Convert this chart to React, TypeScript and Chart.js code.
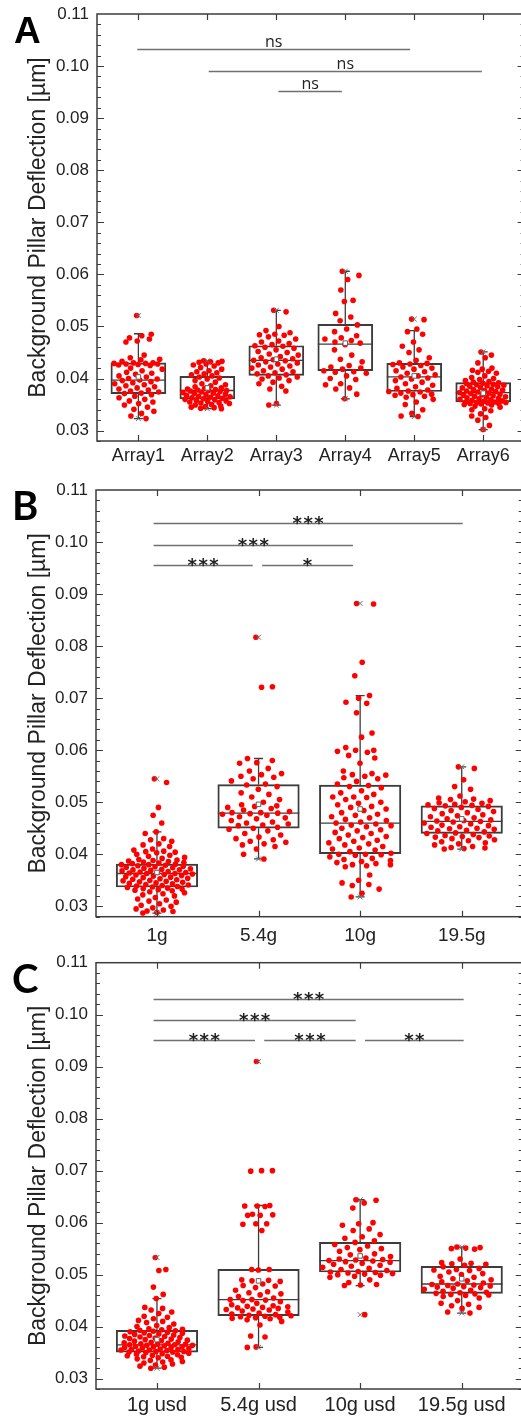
import React, { useEffect, useRef } from "react";
import { Chart, registerables } from "chart.js";
Chart.register(...registerables);

// ---------------- DATA ----------------
const yTickValues = [0.03, 0.04, 0.05, 0.06, 0.07, 0.08, 0.09, 0.1, 0.11];

// Panel A
const catsA = ["Array1", "Array2", "Array3", "Array4", "Array5", "Array6"];
const array1 = [0.0521, 0.0485, 0.0482, 0.0478, 0.0476, 0.0472, 0.047, 0.0445, 0.044, 0.0437, 0.0436, 0.0433, 0.043, 0.043, 0.0429, 0.0429, 0.0428, 0.0428, 0.0427, 0.0426, 0.0425, 0.042, 0.0418, 0.0415, 0.0412, 0.041, 0.0408, 0.0405, 0.0403, 0.04, 0.0399, 0.0397, 0.0396, 0.0394, 0.0392, 0.039, 0.0388, 0.0386, 0.0384, 0.0382, 0.038, 0.0378, 0.0376, 0.0374, 0.0372, 0.0371, 0.0369, 0.0366, 0.0363, 0.036, 0.0357, 0.0355, 0.0352, 0.0349, 0.0345, 0.0341, 0.0337, 0.0333, 0.0328, 0.0323];
const array2 = [0.0434, 0.0433, 0.0432, 0.0431, 0.043, 0.0428, 0.0426, 0.0424, 0.0421, 0.0418, 0.0415, 0.0413, 0.0411, 0.0409, 0.0407, 0.0405, 0.0403, 0.0401, 0.0399, 0.0396, 0.0393, 0.039, 0.0388, 0.0386, 0.0384, 0.0382, 0.0381, 0.038, 0.0379, 0.0378, 0.0377, 0.0377, 0.0376, 0.0375, 0.0374, 0.0373, 0.0372, 0.0371, 0.037, 0.0369, 0.0368, 0.0367, 0.0366, 0.0365, 0.0364, 0.0363, 0.0362, 0.0361, 0.036, 0.0359, 0.0358, 0.0357, 0.0356, 0.0355, 0.0354, 0.0353, 0.0352, 0.035, 0.0349, 0.0347, 0.0346, 0.0345, 0.0344, 0.0343, 0.0342];
const array3 = [0.0531, 0.0528, 0.05, 0.0492, 0.0488, 0.0485, 0.0484, 0.0483, 0.048, 0.0476, 0.0472, 0.047, 0.0467, 0.0465, 0.0463, 0.0462, 0.046, 0.0458, 0.0455, 0.0452, 0.045, 0.0447, 0.0445, 0.0442, 0.044, 0.0438, 0.0436, 0.0435, 0.0434, 0.0432, 0.043, 0.0428, 0.0426, 0.0424, 0.0422, 0.042, 0.0418, 0.0415, 0.0413, 0.0411, 0.0409, 0.0407, 0.0405, 0.0403, 0.0401, 0.0399, 0.0396, 0.0393, 0.039, 0.0385, 0.038, 0.0376, 0.0352, 0.0349];
const array4 = [0.0606, 0.0598, 0.059, 0.057, 0.055, 0.0548, 0.0525, 0.0518, 0.0511, 0.0503, 0.0495, 0.049, 0.0482, 0.0478, 0.0476, 0.0473, 0.047, 0.0468, 0.0465, 0.0455, 0.0445, 0.0437, 0.0432, 0.0425, 0.0422, 0.042, 0.0418, 0.0415, 0.0413, 0.0412, 0.041, 0.0405, 0.04, 0.0398, 0.039, 0.0388, 0.0382, 0.038, 0.037, 0.0361];
const array5 = [0.0514, 0.0513, 0.0495, 0.049, 0.0485, 0.047, 0.0462, 0.0455, 0.045, 0.044, 0.0435, 0.043, 0.0429, 0.0428, 0.0427, 0.0425, 0.0422, 0.042, 0.0418, 0.0415, 0.0413, 0.041, 0.0407, 0.0405, 0.0403, 0.0401, 0.0399, 0.0396, 0.0393, 0.039, 0.0387, 0.0384, 0.0381, 0.0378, 0.0376, 0.0375, 0.0374, 0.0372, 0.037, 0.0369, 0.0368, 0.0366, 0.0364, 0.036, 0.0355, 0.035, 0.034, 0.0333, 0.0328, 0.0327];
const array6 = [0.0451, 0.0445, 0.044, 0.043, 0.042, 0.0418, 0.0416, 0.0414, 0.0412, 0.041, 0.0405, 0.0402, 0.04, 0.0398, 0.0396, 0.0394, 0.0393, 0.0392, 0.0391, 0.039, 0.0389, 0.0388, 0.0387, 0.0386, 0.0385, 0.0384, 0.0383, 0.0382, 0.038, 0.0379, 0.0378, 0.0377, 0.0376, 0.0375, 0.0374, 0.0373, 0.0372, 0.0371, 0.037, 0.0369, 0.0368, 0.0367, 0.0366, 0.0365, 0.0364, 0.0363, 0.0362, 0.0361, 0.036, 0.0359, 0.0358, 0.0357, 0.0356, 0.0355, 0.0355, 0.0354, 0.0354, 0.0353, 0.0352, 0.0352, 0.0351, 0.035, 0.0349, 0.0347, 0.0345, 0.0342, 0.034, 0.0338, 0.0332, 0.0328, 0.0325, 0.032, 0.031, 0.0302];
const q1A = [0.0371, 0.0361, 0.0406, 0.0415, 0.0375, 0.0355];
const medianA = [0.0397, 0.0377, 0.0435, 0.0466, 0.0403, 0.0373];
const q3A = [0.043, 0.0404, 0.0463, 0.0504, 0.0429, 0.0392];
const whiskerLowA = [0.0323, 0.0342, 0.0349, 0.0361, 0.0327, 0.0302];
const whiskerHighA = [0.0486, 0.0434, 0.0531, 0.0606, 0.0492, 0.0451];
const meanA = [0.0403, 0.0382, 0.0437, 0.0468, 0.0405, 0.0372];
const sigFromA = [0.985, 2.02, 3.03];
const sigToA = [4.94, 5.98, 3.95];
const sigLevelA = [0.1032, 0.0991, 0.0952];
const sigLabelA = ["ns", "ns", "ns"];

// Panel B
const catsB = ["1g", "5.4g", "10g", "19.5g"];
const g1 = [0.0545, 0.0538, 0.049, 0.0475, 0.046, 0.0443, 0.044, 0.043, 0.0428, 0.0425, 0.042, 0.0418, 0.0415, 0.041, 0.0408, 0.0406, 0.0405, 0.0404, 0.0403, 0.04, 0.0398, 0.0396, 0.0394, 0.0392, 0.039, 0.0389, 0.0388, 0.0387, 0.0386, 0.0385, 0.0384, 0.0383, 0.0382, 0.0381, 0.038, 0.038, 0.0379, 0.0378, 0.0377, 0.0376, 0.0375, 0.0374, 0.0373, 0.0372, 0.0371, 0.037, 0.037, 0.0369, 0.0368, 0.0367, 0.0366, 0.0365, 0.0365, 0.0364, 0.0363, 0.0363, 0.0362, 0.0361, 0.036, 0.0359, 0.0358, 0.0357, 0.0356, 0.0355, 0.0354, 0.0353, 0.0352, 0.0351, 0.035, 0.0349, 0.0348, 0.0347, 0.0346, 0.0345, 0.0344, 0.0343, 0.0342, 0.0341, 0.034, 0.0339, 0.0338, 0.0337, 0.0336, 0.0335, 0.0334, 0.0333, 0.0332, 0.0331, 0.033, 0.0328, 0.0326, 0.0324, 0.0322, 0.032, 0.0317, 0.0314, 0.0312, 0.031, 0.0308, 0.0305, 0.0302, 0.03, 0.0297, 0.0295, 0.0293, 0.0291, 0.029, 0.0288, 0.0287];
const g54 = [0.0817, 0.0722, 0.0721, 0.0584, 0.058, 0.0576, 0.0575, 0.0565, 0.056, 0.0555, 0.0553, 0.055, 0.0548, 0.0545, 0.0541, 0.0535, 0.0533, 0.053, 0.0525, 0.0518, 0.0515, 0.051, 0.0505, 0.05, 0.0495, 0.0493, 0.0492, 0.049, 0.0488, 0.0485, 0.0482, 0.048, 0.048, 0.0479, 0.0478, 0.0477, 0.0475, 0.0472, 0.047, 0.0468, 0.0465, 0.0462, 0.046, 0.0458, 0.0456, 0.0455, 0.0452, 0.045, 0.0448, 0.0445, 0.044, 0.0437, 0.0433, 0.043, 0.0428, 0.0425, 0.0423, 0.042, 0.0418, 0.0415, 0.041, 0.04, 0.0391];
const g10 = [0.0882, 0.0881, 0.0769, 0.0743, 0.0705, 0.07, 0.0692, 0.069, 0.0672, 0.0633, 0.0625, 0.0605, 0.06, 0.06, 0.0598, 0.0596, 0.059, 0.0585, 0.0575, 0.056, 0.0555, 0.0553, 0.0552, 0.055, 0.0547, 0.0545, 0.054, 0.0535, 0.0532, 0.053, 0.0528, 0.0522, 0.0518, 0.0515, 0.051, 0.051, 0.0509, 0.0505, 0.05, 0.0498, 0.0495, 0.0492, 0.049, 0.0487, 0.0484, 0.048, 0.0477, 0.0475, 0.0472, 0.047, 0.0467, 0.0465, 0.0462, 0.046, 0.0458, 0.0456, 0.0455, 0.0453, 0.045, 0.0447, 0.0445, 0.0442, 0.044, 0.0437, 0.0434, 0.0432, 0.043, 0.0427, 0.0425, 0.0422, 0.042, 0.0418, 0.0415, 0.0412, 0.041, 0.0408, 0.0405, 0.0402, 0.04, 0.04, 0.0399, 0.0398, 0.0395, 0.0392, 0.039, 0.0388, 0.0386, 0.0384, 0.0382, 0.038, 0.038, 0.0378, 0.0376, 0.036, 0.035, 0.0345, 0.0342, 0.034, 0.0333, 0.0325, 0.0318];
const g195 = [0.0568, 0.0565, 0.0543, 0.053, 0.0525, 0.0512, 0.0508, 0.0506, 0.0505, 0.0503, 0.0501, 0.0499, 0.0498, 0.0496, 0.0495, 0.0494, 0.0493, 0.0492, 0.049, 0.0488, 0.0486, 0.0484, 0.0482, 0.048, 0.0478, 0.0476, 0.0474, 0.0472, 0.047, 0.0468, 0.0466, 0.0465, 0.0464, 0.0463, 0.0462, 0.046, 0.0458, 0.0456, 0.0455, 0.0453, 0.0452, 0.045, 0.0449, 0.0448, 0.0446, 0.0445, 0.0443, 0.0441, 0.044, 0.0438, 0.0436, 0.0435, 0.0434, 0.0433, 0.0432, 0.043, 0.0428, 0.0426, 0.0424, 0.0422, 0.042, 0.0418, 0.0415, 0.0413, 0.0412, 0.0411, 0.041];
const q1B = [0.0337, 0.045, 0.0401, 0.044];
const medianB = [0.0363, 0.0479, 0.046, 0.0463];
const q3B = [0.0381, 0.0534, 0.0533, 0.0493];
const whiskerLowB = [0.0287, 0.0391, 0.0318, 0.041];
const whiskerHighB = [0.0443, 0.0584, 0.0705, 0.0568];
const meanB = [0.0365, 0.0496, 0.0487, 0.0468];
const sigFromB = [0.967, 0.967, 0.967, 2.035];
const sigToB = [4.009, 2.929, 1.942, 2.929];
const sigLevelB = [0.1037, 0.0994, 0.0956, 0.0956];
const sigLabelB = ["***", "***", "***", "*"];

// Panel C
const catsC = ["1g usd", "5.4g usd", "10g usd", "19.5g usd"];
const u1 = [0.0533, 0.051, 0.0508, 0.0476, 0.0462, 0.0454, 0.0437, 0.0435, 0.0432, 0.0428, 0.0425, 0.042, 0.0418, 0.0415, 0.0412, 0.041, 0.0408, 0.0405, 0.0402, 0.04, 0.0398, 0.0396, 0.0395, 0.0394, 0.0393, 0.0392, 0.0391, 0.039, 0.0389, 0.0388, 0.0387, 0.0386, 0.0385, 0.0384, 0.0383, 0.0382, 0.0381, 0.038, 0.0379, 0.0378, 0.0377, 0.0376, 0.0375, 0.0374, 0.0373, 0.0372, 0.0371, 0.037, 0.0369, 0.0368, 0.0367, 0.0366, 0.0366, 0.0365, 0.0365, 0.0364, 0.0364, 0.0363, 0.0362, 0.0361, 0.0361, 0.036, 0.036, 0.0359, 0.0358, 0.0357, 0.0356, 0.0356, 0.0355, 0.0355, 0.0354, 0.0353, 0.0352, 0.0352, 0.0351, 0.0351, 0.035, 0.0349, 0.0348, 0.0347, 0.0346, 0.0345, 0.0344, 0.0343, 0.0342, 0.0341, 0.034, 0.0338, 0.0336, 0.0335, 0.0333, 0.0332, 0.033, 0.0328, 0.0326, 0.0324, 0.0322, 0.032];
const u54 = [0.091, 0.07, 0.07, 0.0699, 0.0633, 0.0632, 0.0632, 0.0631, 0.0616, 0.0615, 0.0614, 0.0614, 0.0598, 0.0598, 0.0597, 0.0585, 0.051, 0.051, 0.0509, 0.049, 0.0489, 0.0488, 0.0487, 0.0482, 0.0479, 0.0478, 0.0475, 0.047, 0.0467, 0.0465, 0.0463, 0.0461, 0.0458, 0.0455, 0.0452, 0.0452, 0.0451, 0.045, 0.0448, 0.0445, 0.0442, 0.044, 0.0439, 0.0438, 0.0437, 0.0436, 0.0435, 0.0434, 0.0433, 0.0432, 0.043, 0.0428, 0.0426, 0.0424, 0.0423, 0.0422, 0.0421, 0.042, 0.0419, 0.0418, 0.0417, 0.0416, 0.0415, 0.0413, 0.041, 0.0403, 0.0382, 0.038, 0.0361, 0.036];
const u10 = [0.0644, 0.0643, 0.0638, 0.0628, 0.06, 0.0598, 0.0595, 0.0588, 0.0585, 0.0577, 0.0573, 0.057, 0.0565, 0.0562, 0.0558, 0.0555, 0.0552, 0.055, 0.0548, 0.0545, 0.054, 0.0538, 0.0535, 0.0532, 0.053, 0.0529, 0.0528, 0.0527, 0.0526, 0.0525, 0.0524, 0.0522, 0.052, 0.0518, 0.0516, 0.0514, 0.0512, 0.051, 0.0508, 0.0506, 0.0505, 0.0504, 0.0503, 0.0502, 0.0501, 0.05, 0.0499, 0.0497, 0.0495, 0.049, 0.0485, 0.0481, 0.048, 0.0479, 0.0423];
const u195 = [0.0553, 0.0552, 0.0551, 0.055, 0.0549, 0.053, 0.0523, 0.0522, 0.0521, 0.052, 0.0518, 0.0515, 0.0512, 0.051, 0.0509, 0.0508, 0.0505, 0.0502, 0.05, 0.0497, 0.0495, 0.0492, 0.049, 0.0488, 0.0486, 0.0484, 0.0482, 0.0481, 0.048, 0.0479, 0.0478, 0.0477, 0.0476, 0.0475, 0.0474, 0.0472, 0.047, 0.0468, 0.0466, 0.0465, 0.0464, 0.0463, 0.0462, 0.0461, 0.046, 0.0458, 0.0455, 0.045, 0.0445, 0.0443, 0.044, 0.0437, 0.0435, 0.0428, 0.0426];
const q1C = [0.0351, 0.0421, 0.0505, 0.0464];
const medianC = [0.0365, 0.0452, 0.0527, 0.0482];
const q3C = [0.0393, 0.051, 0.0562, 0.0516];
const whiskerLowC = [0.032, 0.036, 0.0479, 0.0426];
const whiskerHighC = [0.0454, 0.0633, 0.0644, 0.0553];
const meanC = [0.0375, 0.0488, 0.0536, 0.0492];
const sigFromC = [0.967, 0.967, 0.967, 2.056, 3.048];
const sigToC = [4.019, 2.956, 1.965, 2.956, 4.019];
const sigLevelC = [0.1031, 0.099, 0.0951, 0.0951, 0.0951];
const sigLabelC = ["***", "***", "***", "***", "**"];

const yTitle = "Background Pillar Deflection [µm]";

// ---------------- LAYOUT ----------------
const CANVAS_W = 560;
const panels = [
  {
    letter: "A", letterFont: 'bold 37px "Liberation Sans", Arial, sans-serif', letterX: 14, letterY: 43,
    top: 0, height: 470, plotTop: 14, plotBottom: 441, plotLeft: 97, plotRight: 524.6,
    labelSize: 18, labelPad: 4, boxPx: 55, titleShift: 0, titleSize: 23,
    cats: catsA, groups: [array1, array2, array3, array4, array5, array6],
    q1: q1A, med: medianA, q3: q3A, lo: whiskerLowA, hi: whiskerHighA, mean: meanA,
    sigFrom: sigFromA, sigTo: sigToA, sigLevel: sigLevelA, sigLabel: sigLabelA,
  },
  {
    letter: "B", letterFont: 'bold 40px Lato, "Open Sans", sans-serif', letterX: 12, letterY: 50,
    top: 470, height: 480, plotTop: 20, plotBottom: 446.7, plotLeft: 96, plotRight: 522.7,
    labelSize: 19, labelPad: 8, boxPx: 81.5, titleShift: 0, titleSize: 23,
    cats: catsB, groups: [g1, g54, g10, g195],
    q1: q1B, med: medianB, q3: q3B, lo: whiskerLowB, hi: whiskerHighB, mean: meanB,
    sigFrom: sigFromB, sigTo: sigToB, sigLevel: sigLevelB, sigLabel: sigLabelB,
  },
  {
    letter: "C", letterFont: 'bold 40px Lato, "Open Sans", sans-serif', letterX: 12, letterY: 43,
    top: 950, height: 470, plotTop: 12.7, plotBottom: 439, plotLeft: 96, plotRight: 522.7,
    labelSize: 20, labelPad: 4, boxPx: 81.5, titleShift: 0, titleSize: 23,
    cats: catsC, groups: [u1, u54, u10, u195],
    q1: q1C, med: medianC, q3: q3C, lo: whiskerLowC, hi: whiskerHighC, mean: meanC,
    sigFrom: sigFromC, sigTo: sigToC, sigLevel: sigLevelC, sigLabel: sigLabelC,
  },
];

const LINE = "#3c3c3c";
const FONT = '"Liberation Sans", Arial, sans-serif';

function jitteredPoints(groups: number[][]) {
  const pts: { x: number; y: number }[] = [];
  groups.forEach((vals, gi) => {
    const dens = vals.map((v) => vals.filter((w) => Math.abs(w - v) <= 0.0012).length);
    const maxD = Math.max(...dens);
    vals.forEach((v, i) => {
      const u = ((i * 0.6180339887 + 0.37) % 1) * 2 - 1;
      const w = 0.37 * Math.sqrt(dens[i] / maxD);
      pts.push({ x: gi + 1 + u * w, y: v });
    });
  });
  return pts;
}

function makeDecor(cfg: any) {
  return {
    id: "decor" + cfg.letter,
    afterDraw(chart: any) {
      const ctx = chart.ctx;
      const a = chart.chartArea;
      const xs = chart.scales.x;
      const ys = chart.scales.y;
      ctx.save();
      // frame
      ctx.strokeStyle = LINE;
      ctx.lineWidth = 1.5;
      ctx.strokeRect(a.left, a.top, a.right - a.left, a.bottom - a.top);
      ctx.lineWidth = 1.2;
      // x ticks (top and bottom, inward)
      cfg.cats.forEach((_: string, i: number) => {
        const px = Math.round(xs.getPixelForValue(i + 1)) + 0.5;
        ctx.beginPath();
        ctx.moveTo(px, a.bottom); ctx.lineTo(px, a.bottom - 6);
        ctx.moveTo(px, a.top); ctx.lineTo(px, a.top + 6);
        ctx.stroke();
      });
      // y ticks (left and right, inward)
      for (let k = 0; k <= 41; k++) {
        const v = 0.028 + k * 0.002;
        const py = Math.round(ys.getPixelForValue(v)) + 0.5;
        const major = k % 5 === 1;
        if (py < a.top + 1) continue;
        ctx.beginPath();
        ctx.moveTo(a.left, py); ctx.lineTo(a.left + (major ? 7 : 4), py);
        ctx.moveTo(a.right, py); ctx.lineTo(a.right - (major ? 7 : 4), py);
        ctx.stroke();
      }
      // significance bars
      for (let i = 0; i < cfg.sigLabel.length; i++) {
        const x0 = xs.getPixelForValue(cfg.sigFrom[i]);
        const x1 = xs.getPixelForValue(cfg.sigTo[i]);
        const y = Math.round(ys.getPixelForValue(cfg.sigLevel[i])) + 0.5;
        ctx.strokeStyle = "#707070";
        ctx.lineWidth = 1.3;
        ctx.beginPath();
        ctx.moveTo(x0, y); ctx.lineTo(x1, y);
        ctx.stroke();
        const cx = (x0 + x1) / 2;
        ctx.fillStyle = "#222";
        ctx.textAlign = "center";
        ctx.textBaseline = "alphabetic";
        if (cfg.sigLabel[i] === "ns") {
          ctx.font = '16px "Open Sans", sans-serif';
          ctx.fillText("ns", cx, y - 2.5);
        } else {
          ctx.font = 'bold 18px "DejaVu Sans", sans-serif';
          (ctx as any).letterSpacing = "1.5px";
          ctx.fillText(cfg.sigLabel[i], cx + 0.75, y + 5);
          (ctx as any).letterSpacing = "0px";
        }
      }
      // y title
      ctx.save();
      ctx.translate(38.5, (a.top + a.bottom) / 2 + cfg.titleShift);
      ctx.rotate(-Math.PI / 2);
      ctx.font = cfg.titleSize + "px " + FONT;
      ctx.fillStyle = "#222";
      ctx.textAlign = "center";
      ctx.textBaseline = "middle";
      ctx.fillText(yTitle, 0, 0);
      ctx.restore();
      // panel letter
      ctx.font = cfg.letterFont;
      ctx.fillStyle = "#000";
      ctx.textAlign = "left";
      ctx.textBaseline = "alphabetic";
      ctx.fillText(cfg.letter, cfg.letterX, cfg.letterY);
      ctx.restore();
    },
  };
}

function Panel({ cfg }: { cfg: any }) {
  const ref = useRef<HTMLCanvasElement | null>(null);
  useEffect(() => {
    const n = cfg.cats.length;
    const idx = cfg.cats.map((_: string, i: number) => i + 1);
    const whiskerData: any[] = [];
    idx.forEach((x: number, i: number) => {
      whiskerData.push({ x, y: cfg.lo[i] }, { x, y: cfg.q1[i] }, { x, y: null });
      whiskerData.push({ x, y: cfg.q3[i] }, { x, y: cfg.hi[i] }, { x, y: null });
    });
    const extremes: any[] = [];
    cfg.groups.forEach((vals: number[], i: number) => {
      extremes.push({ x: i + 1, y: Math.min(...vals) }, { x: i + 1, y: Math.max(...vals) });
    });
    const hidden = {
      display: true,
      grid: { display: false, drawTicks: false },
      border: { display: false },
      ticks: { display: false },
    };
    const chart = new Chart(ref.current as HTMLCanvasElement, {
      type: "bar",
      data: {
        datasets: [
          {
            type: "bar",
            data: idx.map((x: number, i: number) => ({ x, y: [cfg.q1[i], cfg.q3[i]] })),
            backgroundColor: "rgba(0,0,0,0)",
            borderColor: LINE,
            borderWidth: 1.3,
            borderSkipped: false,
            barThickness: cfg.boxPx,
            order: 6,
          } as any,
          {
            type: "line",
            data: whiskerData,
            borderColor: LINE,
            borderWidth: 1.3,
            pointRadius: 0,
            spanGaps: false,
            order: 6,
          } as any,
          {
            type: "scatter",
            data: idx.map((x: number, i: number) => ({ x, y: cfg.med[i] })),
            pointStyle: "line",
            pointRadius: cfg.boxPx / 2,
            borderColor: LINE,
            borderWidth: 1.3,
            order: 5,
          } as any,
          {
            type: "scatter",
            data: idx.flatMap((x: number, i: number) => [{ x, y: cfg.lo[i] }, { x, y: cfg.hi[i] }]),
            pointStyle: "line",
            pointRadius: 4.5,
            borderColor: LINE,
            borderWidth: 1.3,
            order: 5,
          } as any,
          {
            type: "scatter",
            data: jitteredPoints(cfg.groups),
            pointStyle: "circle",
            pointRadius: 2.8,
            backgroundColor: "#ff0000",
            borderWidth: 0,
            order: 3,
          } as any,
          {
            type: "scatter",
            data: extremes,
            pointStyle: "crossRot",
            pointRadius: 3.5,
            borderColor: "#707070",
            borderWidth: 1,
            order: 2,
          } as any,
          {
            type: "scatter",
            data: idx.map((x: number, i: number) => ({ x, y: cfg.mean[i] })),
            pointStyle: "rect",
            pointRadius: 3.2,
            backgroundColor: "#ffffff",
            borderColor: "#606060",
            borderWidth: 1,
            order: 1,
          } as any,
        ],
      },
      options: {
        animation: false,
        responsive: false,
        devicePixelRatio: 1,
        events: [],
        layout: { padding: 0, autoPadding: false },
        plugins: { legend: { display: false }, tooltip: { enabled: false } },
        scales: {
          x: {
            type: "linear",
            position: "bottom",
            min: 0.4,
            max: n + 0.6,
            offset: false,
            grid: { display: false, drawTicks: false },
            border: { display: false },
            afterBuildTicks: (s: any) => {
              s.ticks = idx.map((v: number) => ({ value: v }));
            },
            afterFit: (s: any) => {
              s.height = cfg.height - cfg.plotBottom;
              s.paddingLeft = 0;
              s.paddingRight = 0;
            },
            ticks: {
              autoSkip: false,
              maxRotation: 0,
              padding: cfg.labelPad,
              color: "#222",
              font: { family: FONT, size: cfg.labelSize },
              callback: (v: any) => cfg.cats[Math.round(Number(v)) - 1] ?? "",
            },
          },
          xTop: {
            ...hidden,
            type: "linear",
            position: "top",
            min: 0.4,
            max: n + 0.6,
            afterFit: (s: any) => {
              s.height = cfg.plotTop;
            },
          },
          y: {
            type: "linear",
            position: "left",
            min: 0.028,
            max: 0.11,
            grid: { display: false, drawTicks: false },
            border: { display: false },
            afterBuildTicks: (s: any) => {
              s.ticks = yTickValues.map((v) => ({ value: v }));
            },
            afterFit: (s: any) => {
              s.width = cfg.plotLeft;
              s.paddingTop = 0;
              s.paddingBottom = 0;
            },
            ticks: {
              padding: 8,
              color: "#222",
              font: { family: FONT, size: 17 },
              callback: (v: any) => Number(v).toFixed(2),
            },
          },
          yRight: {
            ...hidden,
            type: "linear",
            position: "right",
            min: 0.028,
            max: 0.11,
            afterFit: (s: any) => {
              s.width = CANVAS_W - cfg.plotRight;
            },
          },
        },
      } as any,
      plugins: [makeDecor(cfg)],
    });
    return () => chart.destroy();
  }, []);
  return (
    <canvas
      ref={ref}
      width={CANVAS_W}
      height={cfg.height}
      style={{ position: "absolute", left: 0, top: cfg.top, width: CANVAS_W, height: cfg.height }}
    />
  );
}

export default function App() {
  useEffect(() => {
    document.body.style.margin = "0";
    document.body.style.overflow = "hidden";
  }, []);
  return (
    <div style={{ position: "relative", width: 521, height: 1420, overflow: "hidden", background: "#fff" }}>
      {panels.map((p) => (
        <Panel key={p.letter} cfg={p} />
      ))}
    </div>
  );
}
